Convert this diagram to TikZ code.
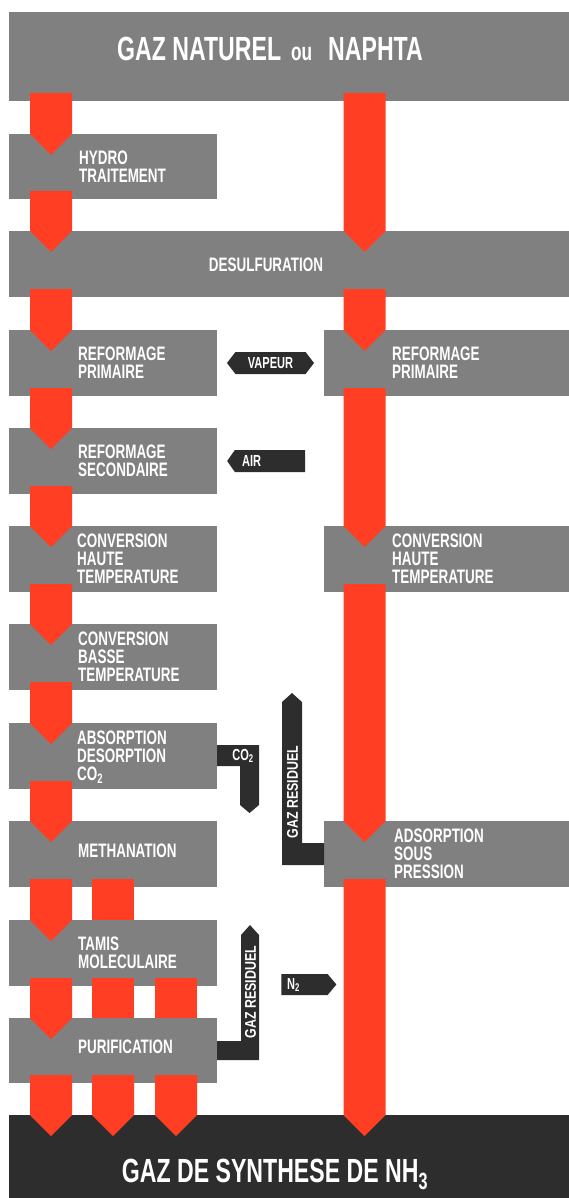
\documentclass[tikz,border=0pt]{standalone}
\usepackage{fontspec}
\newfontfamily\cnd[FakeStretch=0.69]{Liberation Sans}
\newfontfamily\cndw[FakeStretch=0.8]{Liberation Sans}
\usetikzlibrary{calc,shapes.symbols}
\definecolor{boxgray}{RGB}{128,128,128}
\definecolor{redc}{RGB}{255,62,36}
\definecolor{darkc}{RGB}{45,45,45}
\newcommand\redarr[3]{\fill[redc] ($(#1 |- #2.south)+(-21,-8)$) -- ($(#1 |- #2.south)+(21,-8)$) -- ($(#1 |- #3.north)+(21,0)$) -- ($(#1 |- #3.north)+(0,21)$) -- ($(#1 |- #3.north)+(-21,0)$) -- cycle;}
\newcommand\redbar[3]{\fill[redc] ($(#1 |- #2.south)+(-21,-8)$) rectangle ($(#1 |- #3.north)+(21,0)$);}
\tikzset{
  box/.style={fill=boxgray, inner sep=0pt, outer sep=0pt, anchor=north west},
  lbox/.style={box, minimum width=208pt, minimum height=66pt},
  rbox/.style={box, minimum width=245pt, minimum height=66pt},
  btext/.style={text=white, inner sep=0pt, align=left, anchor=west, font=\cnd\bfseries\fontsize{19.5}{18}\selectfont},
  ttext/.style={text=white, inner sep=0pt, font=\cnd\bfseries\fontsize{33.5}{36}\selectfont},
  lbl/.style={text=white, inner sep=0pt, font=\cnd\bfseries\fontsize{16}{16}\selectfont},
  sig/.style={signal, fill=darkc, inner sep=0pt, outer sep=0pt},
  darkshape/.style={fill=darkc}
}
\begin{document}
\begin{tikzpicture}[x=1pt,y=-1pt]
\useasboundingbox (0,0) rectangle (569,1198);
% boxes
\node[box, minimum width=560pt, minimum height=89pt] (source) at (9,12) {};
\node[box, minimum width=208pt, minimum height=65pt] (hydro) at (9,134) {};
\node[box, minimum width=560pt, minimum height=66pt] (desulf) at (9,231) {};
\node[lbox] (refp) at (9,330) {};
\node[lbox] (refs) at (9,428) {};
\node[lbox] (chtl) at (9,526) {};
\node[lbox] (cbt) at (9,624) {};
\node[lbox] (abs) at (9,723) {};
\node[lbox] (meth) at (9,821) {};
\node[lbox] (tamis) at (9,920) {};
\node[box, minimum width=208pt, minimum height=65pt] (purif) at (9,1018) {};
\node[rbox] (refpr) at (324,330) {};
\node[rbox] (chtr) at (324,526) {};
\node[rbox] (asp) at (324,821) {};
\node[box, fill=darkc, minimum width=560pt, minimum height=83pt] (synth) at (9,1115) {};
% columns
\coordinate (cL) at (51,0);
\coordinate (cM) at (113,0);
\coordinate (cT) at (176,0);
\coordinate (cR) at (364.5,0);
% red arrows left
\redarr{cL}{source}{hydro}
\redarr{cL}{hydro}{desulf}
\redarr{cL}{desulf}{refp}
\redarr{cL}{refp}{refs}
\redarr{cL}{refs}{chtl}
\redarr{cL}{chtl}{cbt}
\redarr{cL}{cbt}{abs}
\redarr{cL}{abs}{meth}
\redarr{cL}{meth}{tamis}
\redarr{cL}{tamis}{purif}
\redarr{cL}{purif}{synth}
\redbar{cM}{meth}{tamis}
\redbar{cM}{tamis}{purif}
\redarr{cM}{purif}{synth}
\redbar{cT}{tamis}{purif}
\redarr{cT}{purif}{synth}
% red arrows right
\redarr{cR}{source}{desulf}
\redarr{cR}{desulf}{refpr}
\redarr{cR}{refpr}{chtr}
\redarr{cR}{chtr}{asp}
\redarr{cR}{asp}{synth}
% texts
\node[ttext] (source-t) at (270,49) {GAZ NATUREL\hspace{10pt}{\fontsize{25}{25}\selectfont ou}\hspace{16pt}NAPHTA};
\node[btext] (hydro-t) at (79,166.5) {HYDRO\\TRAITEMENT};
\node[btext, anchor=center] (desulf-t) at (266,265) {DESULFURATION};
\node[btext] (refp-t) at (78,363) {REFORMAGE\\PRIMAIRE};
\node[btext] (refs-t) at (78,461) {REFORMAGE\\SECONDAIRE};
\node[btext] (chtl-t) at (77,559) {CONVERSION\\HAUTE\\TEMPERATURE};
\node[btext] (cbt-t) at (78,657) {CONVERSION\\BASSE\\TEMPERATURE};
\node[btext] (abs-t) at (77,757) {ABSORPTION\\DESORPTION\\CO\textsubscript{2}};
\node[btext] (meth-t) at (78,851) {METHANATION};
\node[btext] (tamis-t) at (78,953) {TAMIS\\MOLECULAIRE};
\node[btext] (purif-t) at (78,1047) {PURIFICATION};
\node[btext] (refpr-t) at (392,363) {REFORMAGE\\PRIMAIRE};
\node[btext] (chtr-t) at (392,559) {CONVERSION\\HAUTE\\TEMPERATURE};
\node[btext] (asp-t) at (394,854) {ADSORPTION\\SOUS\\PRESSION};
\node[ttext, anchor=base] (synth-t) at (275,1182) {GAZ DE SYNTHESE DE NH\textsubscript{3}};
% dark labels
\node[sig, signal to=west and east, signal pointer angle=105, minimum width=87pt, minimum height=22pt, lbl] (vapeur) at (270.5,363) {VAPEUR};
\node[sig, signal to=west, signal pointer angle=110, minimum width=78pt, minimum height=22pt] (air) at (270,461) {};
\node[lbl, anchor=west] (air-t) at (242,461) {AIR};
\node[sig, signal to=east, signal pointer angle=100, minimum width=55pt, minimum height=21pt] (n2) at (304.5,984.5) {};
\node[lbl, anchor=base west] (n2-t) at (287,989) {N\textsubscript{2}};
% CO2 outlet
\fill[darkshape] (abs.east |- 0,745) -- (259,745) -- (259,805) -- (249.5,813) -- (240,805) -- (240,766) -- (abs.east |- 0,766) -- cycle;
\node[lbl, anchor=base] (co2-t) at (243,760) {CO\textsubscript{2}};
% gaz residuel upper
\fill[darkshape] (302,702) -- (292,693) -- (282,702) -- (282,865) -- (asp.west |- 0,865) -- (asp.west |- 0,843) -- (302,843) -- cycle;
\node[lbl, font=\cndw\bfseries\fontsize{15.5}{16}\selectfont, rotate=90] (gr1-t) at (292.5,792) {GAZ RESIDUEL};
% gaz residuel lower
\fill[darkshape] (259,935) -- (250,925) -- (241,935) -- (241,1041) -- (purif.east |- 0,1041) -- (purif.east |- 0,1060) -- (259,1060) -- cycle;
\node[lbl, font=\cndw\bfseries\fontsize{15.5}{16}\selectfont, rotate=90] (gr2-t) at (250.5,992) {GAZ RESIDUEL};
\end{tikzpicture}
\end{document}
